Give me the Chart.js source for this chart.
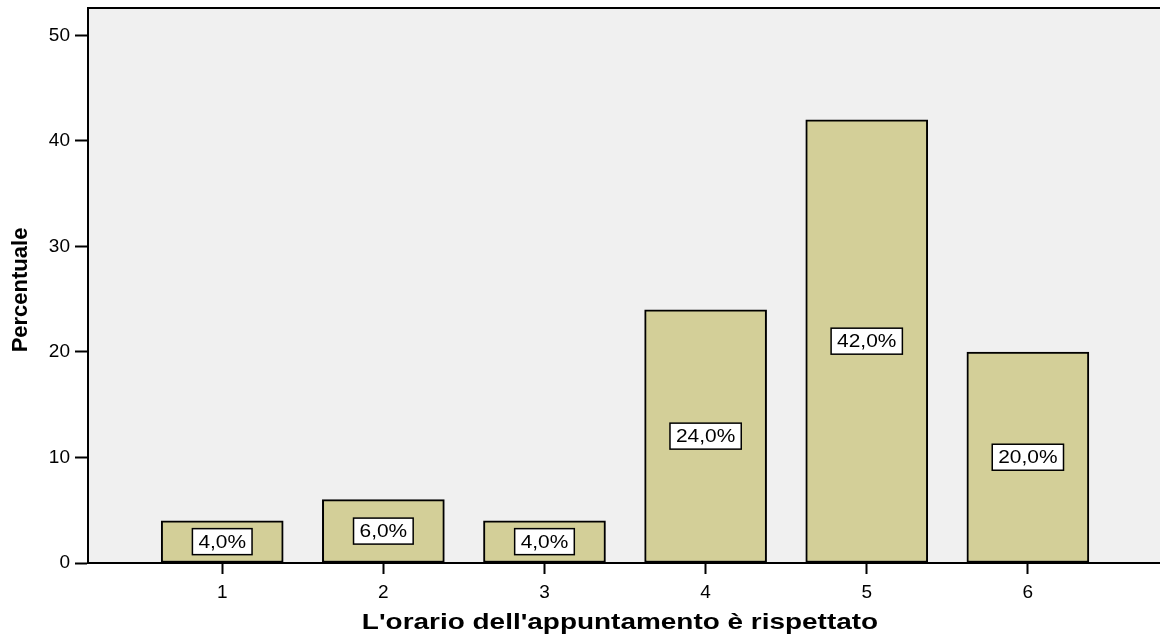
<!DOCTYPE html>
<html>
<head>
<meta charset="utf-8">
<script src="https://cdn.jsdelivr.net/npm/chart.js@4/dist/chart.umd.min.js"></script>
<style>
html,body{margin:0;padding:0;background:#fff;}
#wrap{width:1160px;height:639px;position:relative;}
</style>
</head>
<body>
<div id="wrap"><canvas id="c" width="1160" height="639"></canvas></div>
<script>
const categories = [1, 2, 3, 4, 5, 6];
const percentages = [4.0, 6.0, 4.0, 24.0, 42.0, 20.0];
const valueLabels = ['4,0%', '6,0%', '4,0%', '24,0%', '42,0%', '20,0%'];
const yTicks = [0, 10, 20, 30, 40, 50];
const xTitle = "L'orario dell'appuntamento è rispettato";
const yTitle = 'Percentuale';

const FONT = "'Liberation Sans', Arial, sans-serif";

const bgPlugin = {
  id: 'bg',
  beforeDraw(chart) {
    const {ctx, chartArea: a} = chart;
    ctx.save();
    ctx.fillStyle = '#f0f0f0';
    ctx.fillRect(a.left, a.top, a.right - a.left, a.bottom - a.top);
    ctx.restore();
  },
  afterDraw(chart) {
    const {ctx, chartArea: a} = chart;
    ctx.save();
    ctx.strokeStyle = '#000';
    ctx.lineWidth = 2;
    ctx.beginPath();
    ctx.moveTo(a.left - 1, a.top);
    ctx.lineTo(chart.width, a.top);
    ctx.stroke();
    ctx.fillStyle = '#000';
    ctx.font = 'bold 22px ' + FONT;
    ctx.textAlign = 'center';
    ctx.textBaseline = 'alphabetic';
    ctx.save();
    ctx.translate(620, 629);
    ctx.scale(1.27, 1);
    ctx.fillText(xTitle, 0, 0);
    ctx.restore();
    ctx.save();
    ctx.translate(26.5, 290);
    ctx.rotate(-Math.PI / 2);
    ctx.fillText(yTitle, 0, 0);
    ctx.restore();
    ctx.restore();
  }
};

const labelPlugin = {
  id: 'valueBoxes',
  afterDatasetsDraw(chart) {
    const {ctx} = chart;
    const meta = chart.getDatasetMeta(0);
    ctx.save();
    ctx.font = '19px ' + FONT;
    ctx.textAlign = 'center';
    ctx.textBaseline = 'middle';
    meta.data.forEach((bar, i) => {
      const cx = bar.x;
      const cy = (bar.y + bar.base) / 2;
      const txt = valueLabels[i];
      const w = ctx.measureText(txt).width * 1.1 + 12;
      const h = 26;
      ctx.fillStyle = '#fff';
      ctx.fillRect(cx - w / 2, cy - h / 2, w, h);
      ctx.strokeStyle = '#000';
      ctx.lineWidth = 1.5;
      ctx.strokeRect(cx - w / 2, cy - h / 2, w, h);
      ctx.fillStyle = '#000';
      ctx.save();
      ctx.translate(cx, cy + 1);
      ctx.scale(1.1, 1);
      ctx.fillText(txt, 0, 0);
      ctx.restore();
    });
    ctx.restore();
  }
};

new Chart(document.getElementById('c'), {
  type: 'bar',
  data: {
    datasets: [{
      data: categories.map((c, i) => ({x: c, y: percentages[i]})),
      backgroundColor: '#d3cf98',
      borderColor: '#000',
      borderWidth: 2,
      borderSkipped: false,
      barThickness: 122
    }]
  },
  options: {
    responsive: false,
    animation: false,
    events: [],
    layout: {padding: {top: 8, left: 0, right: 0, bottom: 0}},
    plugins: {legend: {display: false}, tooltip: {enabled: false}},
    scales: {
      x: {
        type: 'linear',
        min: 0.167,
        max: 6.82,
        offset: false,
        afterFit(s) { s.height = 76; s.paddingLeft = 0; s.paddingRight = 0; },
        afterBuildTicks(s) { s.ticks = categories.map(v => ({value: v})); },
        ticks: {
          font: {family: FONT, size: 19},
          color: '#000',
          padding: 7,
          maxRotation: 0,
          autoSkip: false,
          includeBounds: false
        },
        grid: {
          offset: false,
          drawOnChartArea: false,
          drawTicks: true,
          tickLength: 11,
          tickColor: '#000',
          tickWidth: 2
        },
        border: {display: true, color: '#000', width: 2}
      },
      y: {
        type: 'linear',
        min: 0,
        max: 52.6,
        afterFit(s) { s.width = 88; s.paddingTop = 0; s.paddingBottom = 0; },
        afterBuildTicks(s) { s.ticks = yTicks.map(v => ({value: v})); },
        ticks: {
          font: {family: FONT, size: 19},
          color: '#000',
          padding: 5,
          includeBounds: false
        },
        grid: {
          drawOnChartArea: false,
          drawTicks: true,
          tickLength: 13,
          tickColor: '#000',
          tickWidth: 2
        },
        border: {display: true, color: '#000', width: 2}
      }
    }
  },
  plugins: [bgPlugin, labelPlugin]
});
</script>
</body>
</html>
